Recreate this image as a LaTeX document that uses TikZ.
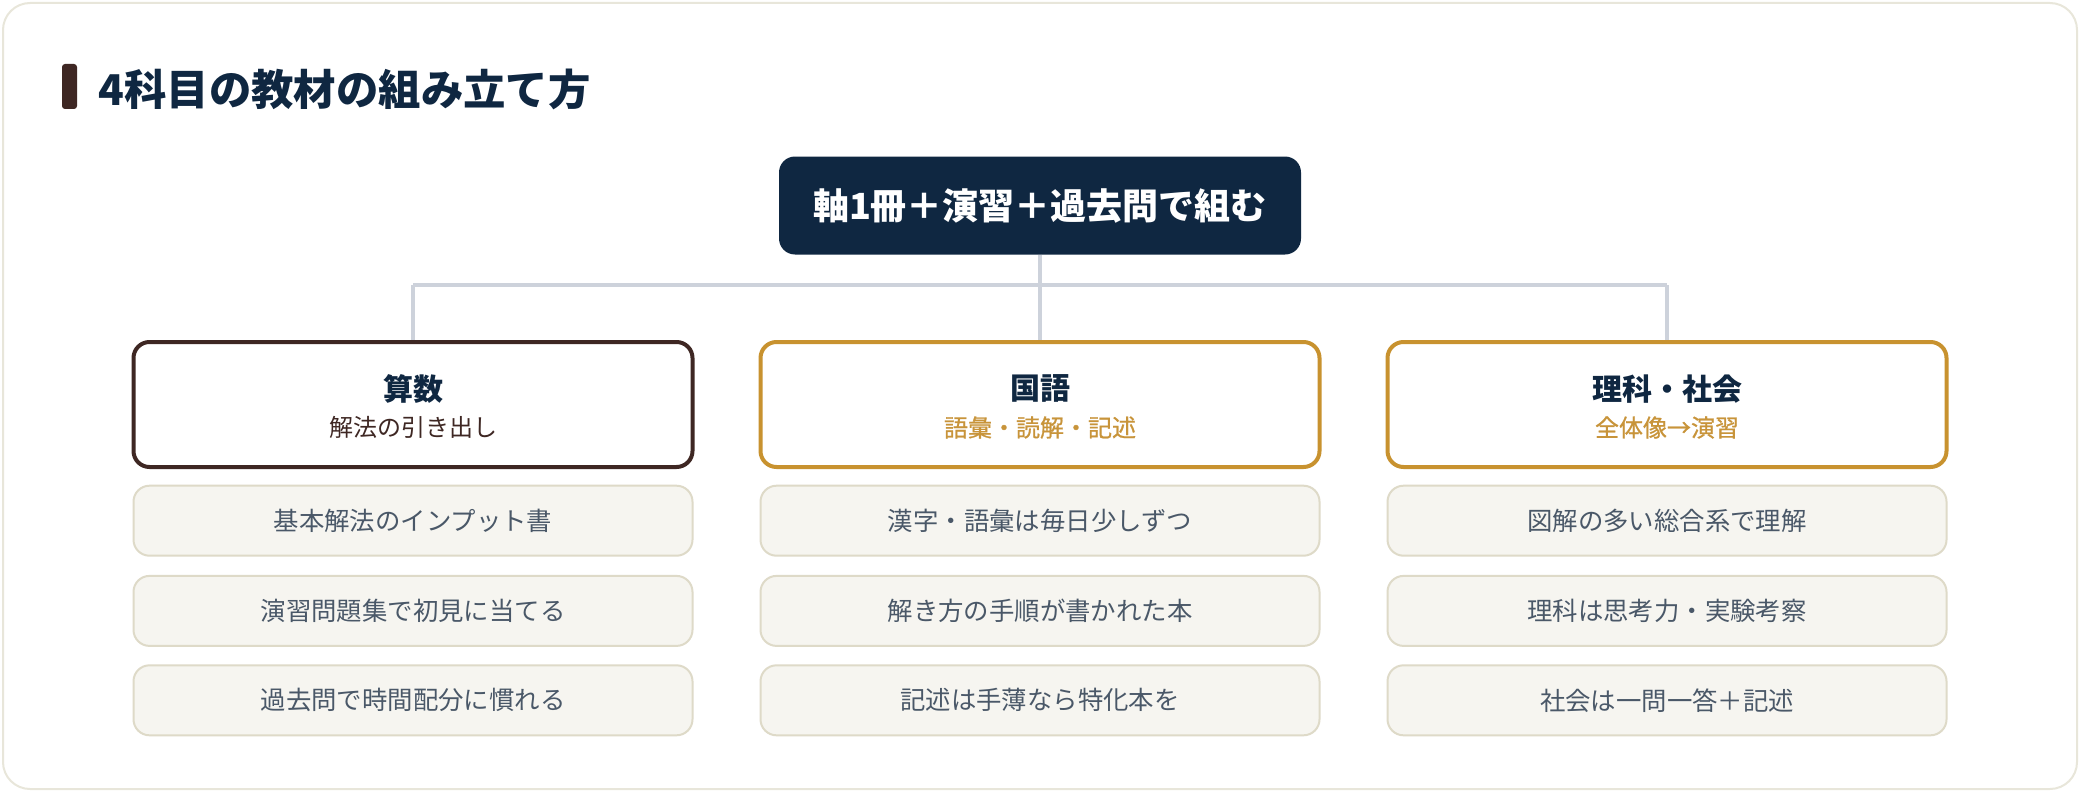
\documentclass[tikz,border=0pt]{standalone}
\usepackage{fontspec}
\setmainfont{Noto Sans CJK JP}
\newfontfamily\semibfont[FakeBold=0.8]{Noto Sans CJK JP}
\definecolor{navy}{HTML}{0F2741}
\definecolor{brownd}{HTML}{3E2723}
\definecolor{gold}{HTML}{C8922F}
\definecolor{goldtxt}{HTML}{C8943A}
\definecolor{itemfill}{HTML}{F6F5F0}
\definecolor{itemdraw}{HTML}{DEDAC8}
\definecolor{itemtxt}{HTML}{4A5868}
\definecolor{framec}{HTML}{E8E6DA}
\definecolor{conn}{HTML}{CDD2DB}
\tikzset{
  subjbox/.style={draw, line width=2pt, rounded corners=8pt, fill=white, minimum width=279.5pt, minimum height=62.5pt, inner sep=0pt},
  itembox/.style={draw=itemdraw, line width=1pt, rounded corners=8pt, fill=itemfill, minimum width=279.5pt, minimum height=35pt, inner sep=0pt, text=itemtxt, font=\fontsize{12.7pt}{14pt}\selectfont},
  subjtitle/.style={text=navy, font=\bfseries\fontsize{15pt}{17pt}\selectfont, inner sep=0pt},
  subjsub/.style={font=\fontsize{12pt}{14pt}\selectfont, inner sep=0pt},
  goldsub/.style={text=goldtxt, font=\semibfont\fontsize{12pt}{14pt}\selectfont, inner sep=0pt},
  connline/.style={draw=conn, line width=1.6pt}
}
\begin{document}
\begin{tikzpicture}[x=0.5pt,y=-0.5pt]
\useasboundingbox (0,0) rectangle (2080,792);
% outer frame
\draw[framec, line width=1pt, fill=white, rounded corners=13.5pt] (3,3) rectangle (2077,789);
% title
\fill[brownd, rounded corners=1.5pt] (62,64) rectangle (77,109);
\node[anchor=west, text=navy, font=\bfseries\fontsize{21.2pt}{24pt}\selectfont, inner sep=0pt] (title) at (98,89) {4科目の教材の組み立て方};
% top box
\node[fill=navy, rounded corners=8pt, minimum width=261pt, minimum height=49pt, inner sep=0pt, text=white, font=\bfseries\fontsize{18pt}{20pt}\selectfont] (top) at (1040,205.5) {軸1冊＋演習＋過去問で組む};
% subject boxes
\node[subjbox, draw=brownd] (s1) at (413,404.5) {};
\node[subjbox, draw=gold] (s2) at (1040,404.5) {};
\node[subjbox, draw=gold] (s3) at (1667,404.5) {};
\node[subjtitle] (s1t) at (413,388.8) {算数};
\node[subjsub, text=brownd] (s1s) at (413,427.5) {解法の引き出し};
\node[subjtitle] (s2t) at (1040,388.8) {国語};
\node[goldsub] (s2s) at (1040,427.5) {語彙・読解・記述};
\node[subjtitle] (s3t) at (1667,388.8) {理科・社会};
\node[goldsub] (s3s) at (1667,427.5) {全体像→演習};
% connectors
\coordinate (busL) at (413,285);
\coordinate (busR) at (1667,285);
\draw[connline] (top.south) -- (top.south |- busL);
\draw[connline] (busL) -- (busR);
\draw[connline] (busL) -- (s1.north);
\draw[connline] (s2.north |- busL) -- (s2.north);
\draw[connline] (busR) -- (s3.north);
% items
\node[itembox] (a1) at (413,520.7) {基本解法のインプット書};
\node[itembox] (a2) at (413,610.9) {演習問題集で初見に当てる};
\node[itembox] (a3) at (413,700.3) {過去問で時間配分に慣れる};
\node[itembox] (b1) at (1040,520.7) {漢字・語彙は毎日少しずつ};
\node[itembox] (b2) at (1040,610.9) {解き方の手順が書かれた本};
\node[itembox] (b3) at (1040,700.3) {記述は手薄なら特化本を};
\node[itembox] (c1) at (1667,520.7) {図解の多い総合系で理解};
\node[itembox] (c2) at (1667,610.9) {理科は思考力・実験考察};
\node[itembox] (c3) at (1667,700.3) {社会は一問一答＋記述};
\end{tikzpicture}
\end{document}
